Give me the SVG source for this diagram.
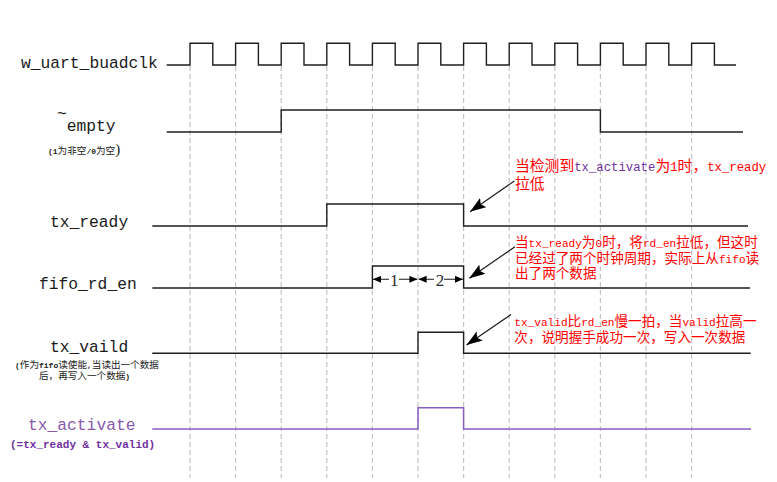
<svg xmlns="http://www.w3.org/2000/svg" width="777" height="482" viewBox="0 0 777 482">
<style>
.grid{stroke:#c4c4c4;stroke-width:1.2;stroke-dasharray:5 3;fill:none}
.sig{stroke:#1e1e1e;stroke-width:1.4;fill:none}
.sigp{stroke:#8a5cc2;stroke-width:1.5;fill:none}
.lbl{font-family:"Liberation Mono","DejaVu Sans Mono",monospace;font-size:16.3px;fill:#1a1a1a}
.sub{font-family:"Liberation Mono","Noto Sans CJK SC",sans-serif;font-size:9.6px;fill:#222}
.subm{font-family:"Liberation Mono",monospace;font-size:8px;font-weight:bold}
.a1{font-family:"Liberation Mono","Noto Sans CJK SC",sans-serif;font-size:14.8px;fill:#ff0000}
.m1{font-family:"Liberation Mono",monospace;font-size:12.3px}
.a2{font-family:"Liberation Mono","Noto Sans CJK SC",sans-serif;font-size:13.6px;fill:#ff0000}
.m2{font-family:"Liberation Mono",monospace;font-size:11.1px}
.arr{stroke:#1a1a1a;stroke-width:1.2;fill:none}
.dim{stroke:#1a1a1a;stroke-width:1.1;fill:none}
.num{font-family:"Liberation Serif",serif;font-size:17px;fill:#2a2a2a}
</style>
<defs>
<marker id="ah" viewBox="0 0 16 11" refX="16" refY="5.5" markerWidth="16" markerHeight="11" markerUnits="userSpaceOnUse" orient="auto">
<path d="M0,0 L16,5.5 L0,11 L3,5.5 z" fill="#000"/>
</marker>
<marker id="dh" viewBox="0 0 8 7" refX="8" refY="3.5" markerWidth="8" markerHeight="7" markerUnits="userSpaceOnUse" orient="auto-start-reverse">
<path d="M0,0 L8,3.5 L0,7 z" fill="#000"/>
</marker>
</defs>
<rect width="777" height="482" fill="#fff"/>

<g id="grid">
<path class="grid" d="M190,66V478M235.6,66V478M281.2,66V478M326.8,66V478M372.4,66V478M418,66V478M463.6,66V478M509.2,66V478M554.8,66V478M600.4,66V478M646,66V478M691.6,66V478"/>
</g>

<g id="w_uart_buadclk">
<text class="lbl" x="21" y="68">w_uart_buadclk</text>
<path class="sig" d="M166.7,65H190V43.3H212.8V65H235.6V43.3H258.4V65H281.2V43.3H304V65H326.8V43.3H349.6V65H372.4V43.3H395.2V65H418V43.3H440.8V65H463.6V43.3H486.4V65H509.2V43.3H532V65H554.8V43.3H577.6V65H600.4V43.3H623.2V65H646V43.3H668.8V65H691.6V43.3H714.4V65H736"/>
</g>

<g id="empty">
<text class="lbl" x="57" y="131"><tspan dy="-12">~</tspan><tspan dy="12">empty</tspan></text>
<text class="sub" x="48" y="154" font-size="10.2px"><tspan class="subm" font-weight="normal" font-size="8.6px">(1</tspan>为非空<tspan class="subm" font-weight="normal" font-size="8.6px">/0</tspan>为空<tspan font-size="15" font-family="Liberation Serif,serif">)</tspan></text>
<path class="sig" d="M166.7,132H281.2V110H600.4V132H743"/>
</g>

<g id="tx_ready">
<text class="lbl" x="50" y="227">tx_ready</text>
<path class="sig" d="M152.3,226H326.8V204H463.6V226H748"/>
</g>

<g id="fifo_rd_en">
<text class="lbl" x="39" y="289">fifo_rd_en</text>
<path class="sig" d="M152.3,288H372.4V266H463.6V288H750"/>
<path class="dim" d="M373,279.3H417.4" marker-start="url(#dh)" marker-end="url(#dh)"/>
<path class="dim" d="M418.6,279.3H463" marker-start="url(#dh)" marker-end="url(#dh)"/>
<rect x="389" y="272" width="10" height="15" fill="#fff"/>
<rect x="434" y="272" width="10" height="15" fill="#fff"/>
<text class="num" x="394.3" y="285.7" text-anchor="middle">1</text>
<text class="num" x="440" y="285.7" text-anchor="middle">2</text>
</g>

<g id="tx_vaild">
<text class="lbl" x="50" y="352">tx_vaild</text>
<text class="sub" x="15" y="368"><tspan class="subm">(</tspan>作为<tspan class="subm">fifo</tspan>读使能<tspan class="subm">,</tspan>当读出一个数据<tspan x="39" dy="11">后，再写入一个数据</tspan><tspan class="subm">)</tspan></text>
<path class="sig" d="M152.3,353.3H418V332.3H463.6V353.3H750.7"/>
</g>

<g id="tx_activate">
<text class="lbl" x="28" y="429.5" style="fill:#8a5aaa">tx_activate</text>
<text x="10" y="448" font-family="Liberation Mono,monospace" font-size="11px" font-weight="bold" fill="#7030a0">(=tx_ready &amp; tx_valid)</text>
<path class="sigp" d="M152.3,429H418V407.7H463.6V429H751"/>
</g>

<g id="note1">
<text class="a1" x="515" y="170.5">当检测到<tspan class="m1" fill="#7030a0">tx_activate</tspan>为<tspan class="m1">1</tspan>时，<tspan class="m1">tx_ready</tspan><tspan x="515" dy="18.3">拉低</tspan></text>
</g>

<g id="note2">
<text class="a2" x="515" y="247">当<tspan class="m2">tx_ready</tspan>为<tspan class="m2">0</tspan>时，将<tspan class="m2">rd_en</tspan>拉低，但这时<tspan x="515" dy="15.5">已经过了两个时钟周期，实际上从</tspan><tspan class="m2">fifo</tspan>读<tspan x="515" dy="15.5">出了两个数据</tspan></text>
</g>

<g id="note3">
<text class="a2" x="514.3" y="326"><tspan class="m2">tx_valid</tspan>比<tspan class="m2">rd_en</tspan>慢一拍，当<tspan class="m2">valid</tspan>拉高一<tspan x="514.3" dy="15.5">次，说明握手成功一次，写入一次数据</tspan></text>
</g>

<g id="connectors">
<path class="arr" d="M514.3,181L470,211.7" marker-end="url(#ah)"/>
<path class="arr" d="M515,246.7L469.3,278.3" marker-end="url(#ah)"/>
<path class="arr" d="M511,314.5L466.5,345" marker-end="url(#ah)"/>
</g>
</svg>
